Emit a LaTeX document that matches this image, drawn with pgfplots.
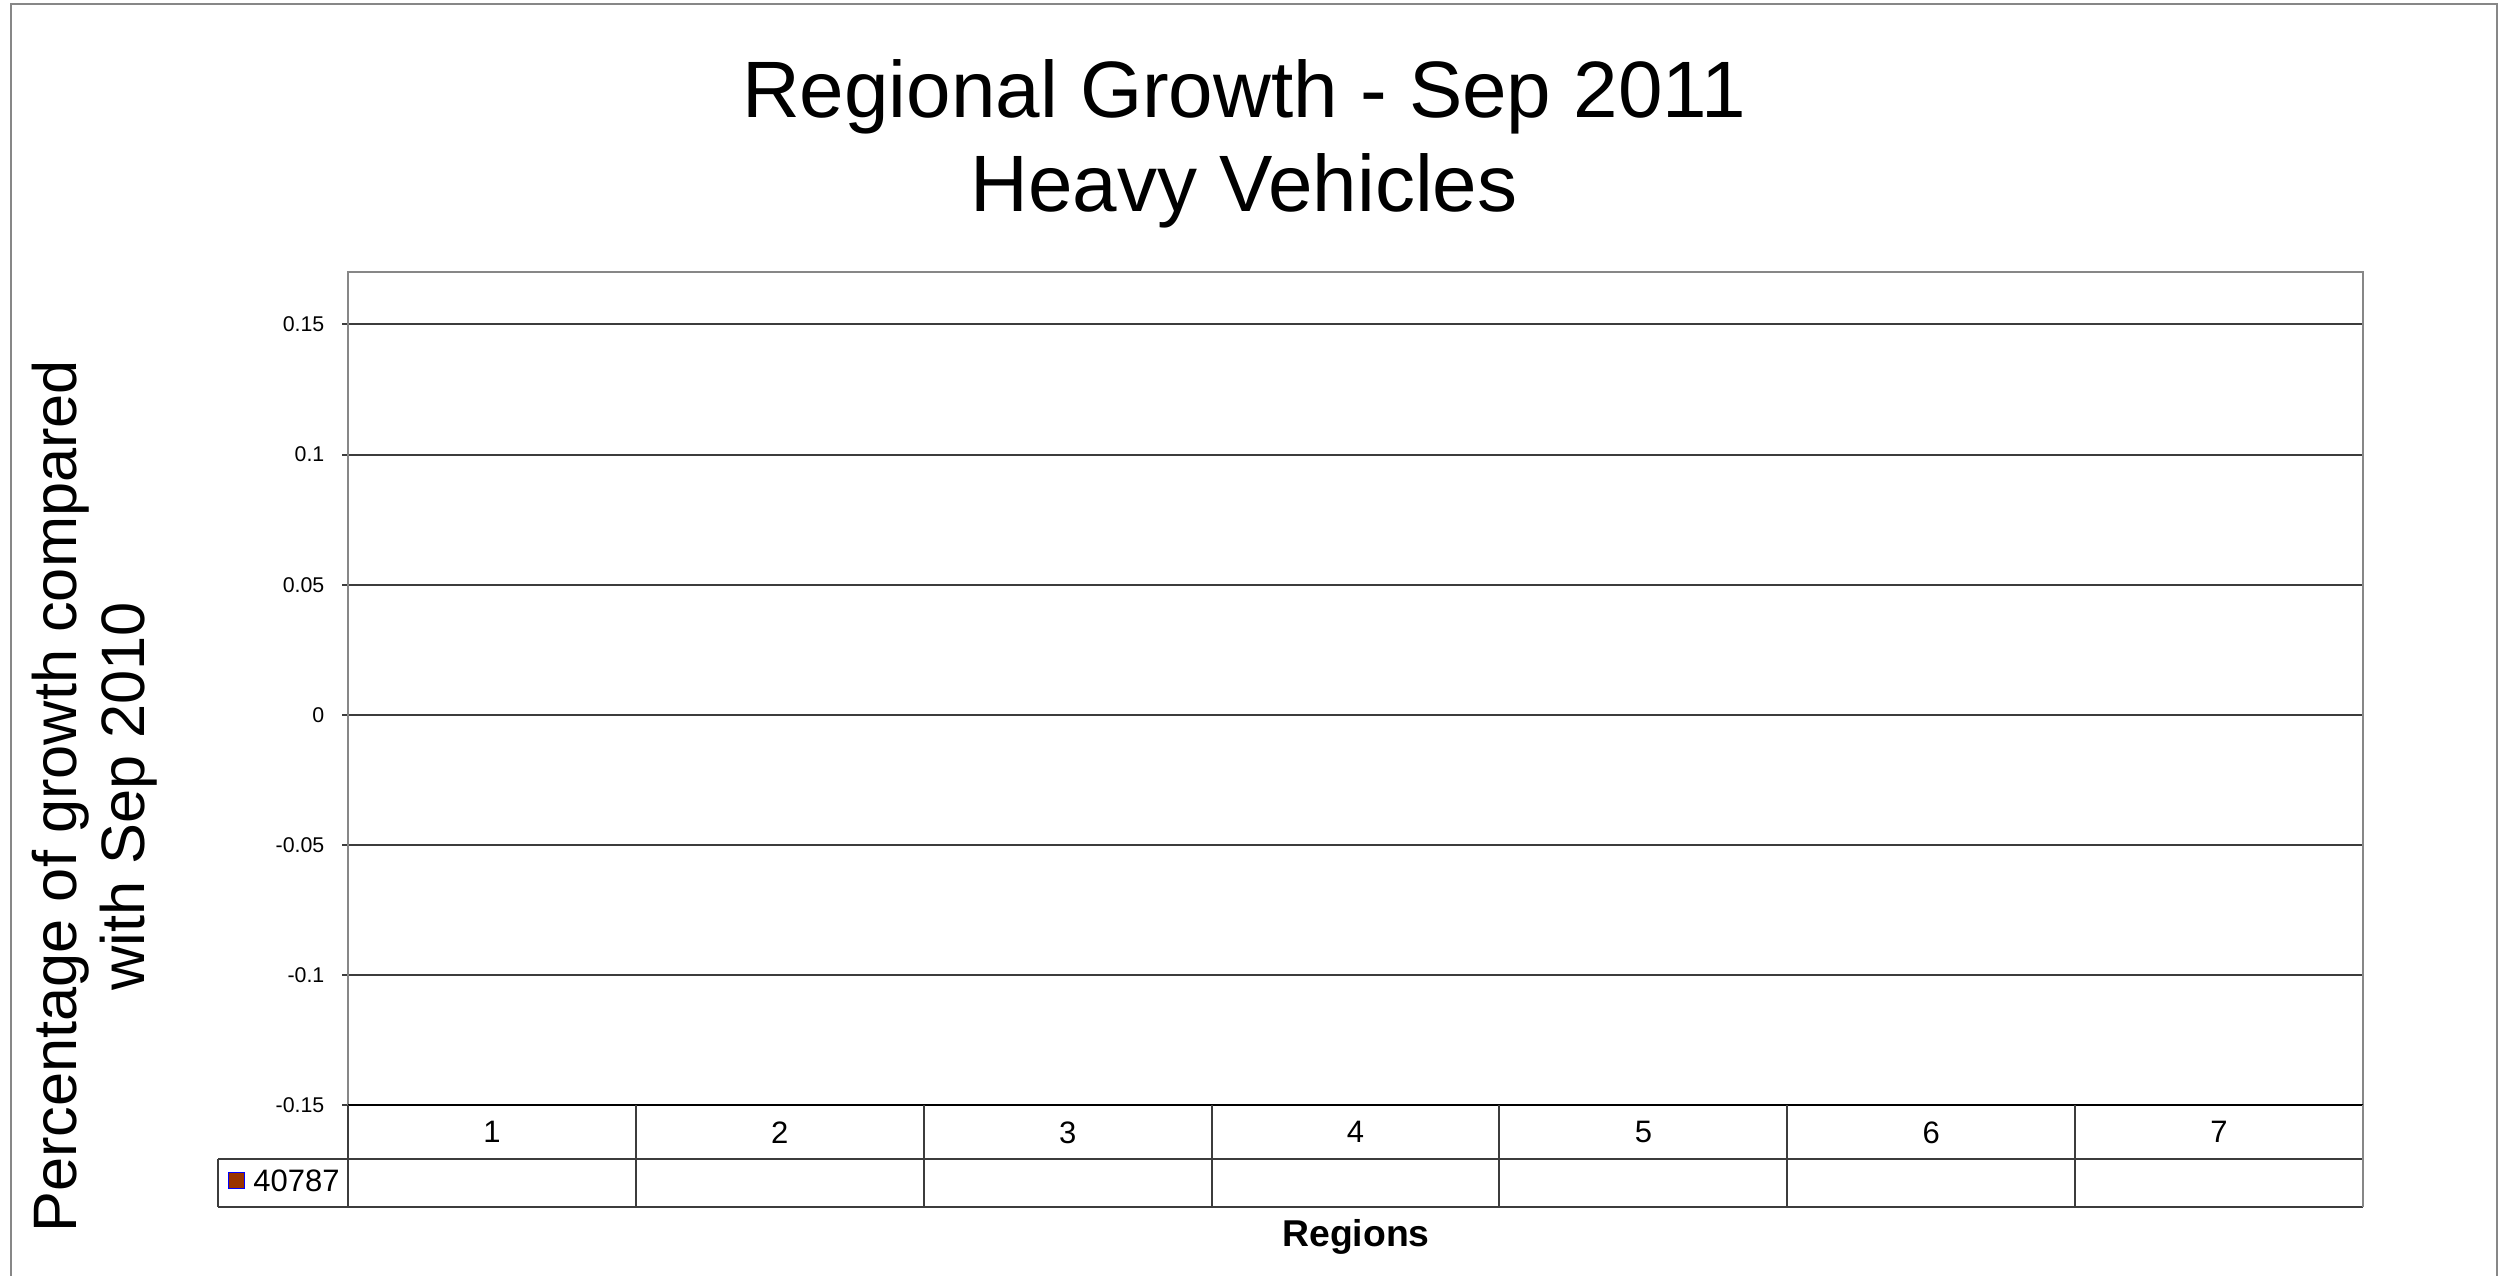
\documentclass[border=0pt]{standalone}
\usepackage{pgfplots}
\pgfplotsset{compat=1.18}
\usepackage{fontspec}
\setmainfont{Liberation Sans}
\usetikzlibrary{calc}
\definecolor{serA}{HTML}{993300}
\definecolor{frameG}{HTML}{878787}
\definecolor{gridG}{HTML}{3C3C3C}
\begin{document}
\begin{tikzpicture}
\path[use as bounding box] (0pt,0pt) rectangle (749.4pt,382.6pt);
\fill[white] (0pt,0pt) rectangle (749.4pt,382.6pt);
% outer chart-area frame
\draw[frameG, line width=0.7pt] (3.3pt,-5pt) -- (3.3pt,381.4pt) -- (749.0pt,381.4pt) -- (749.0pt,-5pt);
\begin{axis}[
  name=ax,
  at={(104.4pt,51pt)}, anchor=south west,
  scale only axis,
  width=604.5pt, height=249.9pt,
  xmin=0.5, xmax=7.5, ymin=-0.15, ymax=0.17,
  axis line style={frameG, line width=0.7pt},
  ytick={-0.15,-0.1,-0.05,0,0.05,0.1,0.15},
  yticklabels={-0.15,-0.1,-0.05,0,0.05,0.1,0.15},
  ytick align=outside, ytick pos=left,
  major tick length=1.8pt,
  tick style={gridG, line width=0.6pt},
  ymajorgrids,
  major grid style={gridG, line width=0.6pt},
  yticklabel style={font=\fontsize{6.4}{7.5}\selectfont, anchor=east, inner sep=0pt, xshift=-5.1pt},
  xtick={1,2,3,4,5,6,7},
  xticklabels={1,2,3,4,5,6,7},
  xtick pos=bottom, xtick style={draw=none},
  xticklabel style={font=\fontsize{9.3}{11}\selectfont, anchor=center, inner sep=0pt},
  every x tick label/.append style={yshift=-8.1pt},
  unbounded coords=discard,
  clip=false,
]
% series "40787": no values were recorded (empty data-table row)
\addplot[ybar, fill=serA, draw=blue, forget plot] coordinates {(1,nan) (2,nan) (3,nan) (4,nan) (5,nan) (6,nan) (7,nan)};
\draw[black, line width=0.7pt] (axis cs:0.5,-0.15) -- (axis cs:7.5,-0.15);
\end{axis}
% data table under the plot
\foreach \i in {0,...,7} {
  \draw[gridG, line width=0.6pt] ($(ax.south west)+(\i*86.357pt,0)$) -- ++(0,-30.6pt);
}
\draw[gridG, line width=0.6pt] ($(ax.south west)+(-39pt,-16.2pt)$) -- ($(ax.south east)+(0,-16.2pt)$);
\draw[gridG, line width=0.6pt] ($(ax.south west)+(-39pt,-30.6pt)$) -- ($(ax.south east)+(0,-30.6pt)$);
\draw[gridG, line width=0.6pt] ($(ax.south west)+(-39pt,-16.2pt)$) -- ++(0,-14.4pt);
\draw[frameG, line width=0.7pt] (ax.south east) -- ++(0,-30.6pt);
\fill[serA, draw=blue, line width=0.3pt] ($(ax.south west)+(-35.9pt,-20.1pt)$) rectangle ++(4.9pt,-4.8pt);
\node[anchor=west, inner sep=0pt, font=\fontsize{9.3}{11}\selectfont] at ($(ax.south west)+(-28.6pt,-22.5pt)$) {40787};
% titles
\node[align=center, font=\fontsize{24}{28.2}\selectfont] at (373.2pt,339.4pt) {Regional Growth - Sep 2011\\Heavy Vehicles};
\node[rotate=90, align=center, font=\fontsize{18.4}{20.4}\selectfont] at (28.4pt,143.7pt) {Percentage of growth compared\\with Sep 2010};
\node[anchor=base, inner sep=0pt, font=\fontsize{11.2}{13}\selectfont\bfseries] at (406.8pt,8.7pt) {Regions};
\end{tikzpicture}
\end{document}
